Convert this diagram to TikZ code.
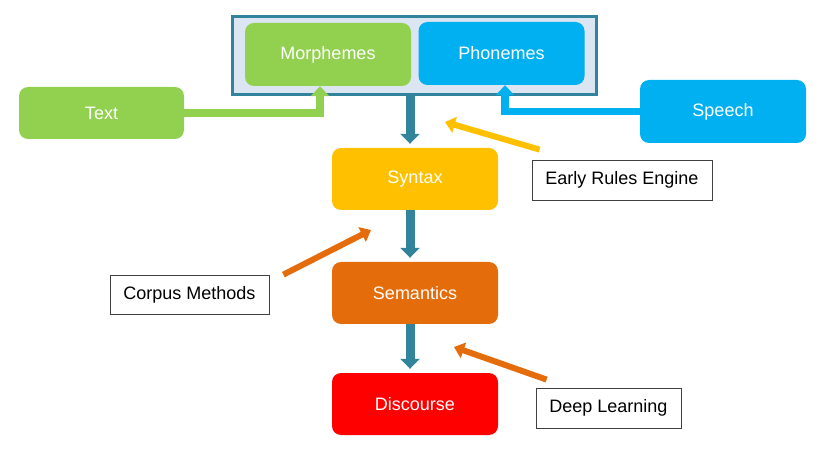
\documentclass[tikz,border=0pt]{standalone}
\usepackage{fontspec}
\setmainfont{Liberation Sans}
\usetikzlibrary{positioning,arrows.meta,calc,shapes}

\definecolor{lgreen}{HTML}{92D050}
\definecolor{lblue}{HTML}{00B0F0}
\definecolor{gold}{HTML}{FFC000}
\definecolor{burnt}{HTML}{E46C0A}
\definecolor{hotred}{HTML}{FF0000}
\definecolor{teal}{HTML}{31849B}
\definecolor{paleblue}{HTML}{DCE6F2}

\begin{document}
\begin{tikzpicture}[x=1pt,y=-1pt,font=\fontsize{18}{21.6}\selectfont]
	\tikzstyle{block}=[rectangle,rounded corners=9pt,minimum width=166pt,minimum height=62pt,inner sep=0pt,text=white]
	\tikzstyle{greenBlock}=[block, fill=lgreen];
	\tikzstyle{blueBlock}=[block, fill=lblue];
	\tikzstyle{note}=[rectangle,draw=black!75,thick,fill=white,minimum height=40pt,inner sep=0pt,text=black]

	\tikzstyle{feed}=[line width=7.5pt,-{Triangle[width=18pt,length=10pt]}]
	\tikzstyle{flow}=[draw=teal,line width=9pt,-{Triangle[width=19pt,length=10pt]},shorten >=4pt]
	\tikzstyle{hint}=[line width=6pt,-{Triangle[width=16pt,length=10pt]}]

	\useasboundingbox (0,0) rectangle (828,457);

	%inputs
	\node[draw=teal,line width=3pt,fill=paleblue,minimum width=364pt,minimum height=78pt] (lexicon) at (414,56) {};
	\node[greenBlock,minimum height=63pt] (morph) at (328,54.5) {Morphemes};
	\node[blueBlock,minimum height=63pt] (phon) at (501.5,53.5) {Phonemes};
	\node[greenBlock,minimum width=165pt,minimum height=52pt] (text) at (101.5,113) {Text};
	\node[blueBlock,minimum height=63pt] (speech) at (723,111.5) {Speech};
	\draw[feed,draw=lgreen] (text.east) -| ([xshift=-8pt]morph.south);
	\draw[feed,draw=lblue] (speech.west) -| ([xshift=3.5pt]phon.south);

	%pipeline
	\node[block,fill=gold] (syntax) at (415,179) {Syntax};
	\node[block,fill=burnt] (semantics) at (415,293) {Semantics};
	\node[block,fill=hotred] (discourse) at (415,404) {Discourse};
	\draw[flow] ([xshift=-4pt]lexicon.south) -- ([xshift=-5pt]syntax.north);
	\draw[flow] ([xshift=-5pt]syntax.south) -- ([xshift=-5pt]semantics.north);
	\draw[flow] ([xshift=-5pt]semantics.south) -- ([xshift=-5pt]discourse.north);

	%methods
	\node[note,minimum width=180pt] (rules) at (622,180) {Early Rules Engine};
	\node[note,minimum width=159pt,minimum height=39pt] (corpus) at (189.5,294.5) {Corpus Methods};
	\node[note,minimum width=145pt] (deep) at (608.5,408) {Deep Learning};
	\coordinate (rulesTip) at (445,122);
	\coordinate (corpusTip) at (371,230);
	\coordinate (deepTip) at (454,347);
	\draw[hint,draw=gold] ([shift={(8pt,10pt)}]rules.north west) -- (rulesTip);
	\draw[hint,draw=burnt] ([shift={(14pt,0pt)}]corpus.north east) -- (corpusTip);
	\draw[hint,draw=burnt] ([shift={(11pt,8pt)}]deep.north west) -- (deepTip);

\end{tikzpicture}
\end{document}
